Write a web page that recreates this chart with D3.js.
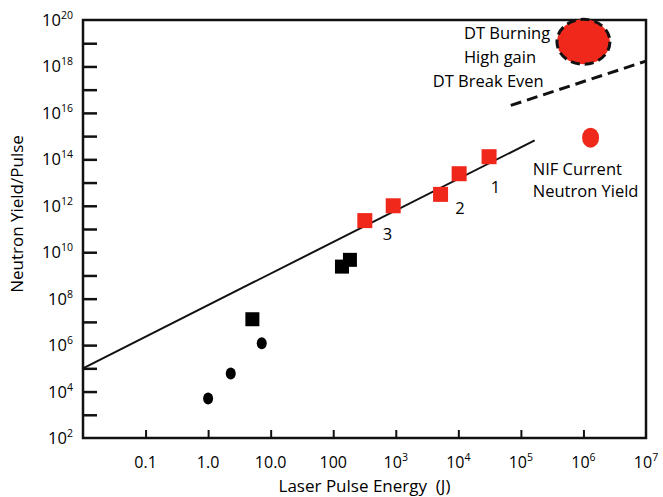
<!DOCTYPE html>
<html>
<head>
<meta charset="utf-8">
<script src="https://cdn.jsdelivr.net/npm/d3@7"></script>
<style>
  body { margin: 0; background: #fff; }
  svg text { font-family: "Open Sans", sans-serif; fill: #000; white-space: pre; }
</style>
</head>
<body>
<div id="chart"></div>
<script>

// Data (energy in J, yield in neutrons/pulse)

var circleEnergy = [1.0, 2.3, 7.2];
var circleYield  = [5e3, 6e4, 1.2e6];

var blackSqEnergy = [5.1, 138, 185];
var blackSqYield  = [1.3e7, 2.4e9, 4.7e9];

var redSqEnergy = [320, 910, 5200, 10300, 31000];
var redSqYield  = [2.3e11, 1e12, 3.1e12, 2.4e13, 1.3e14];

var fitEnergy = [0.01, 1.66e5];
var fitYield  = [1e5, 6.6e14];

var breakEvenEnergy = [6.9e4, 1e7];
var breakEvenYield  = [2.1e16, 1.7e18];

var highGainEnergy = [1e6];
var highGainYield  = [1.15e19];

var nifEnergy = [1.3e6];
var nifYield  = [8.6e14];

var xTickValues = [0.1, 1, 10, 100, 1e3, 1e4, 1e5, 1e6, 1e7];
var xTickLabels = ["0.1", "1.0", "10.0", "100", "10^3", "10^4", "10^5", "10^6", "10^7"];

var yTickValues = [1e3, 1e4, 1e5, 1e6, 1e7, 1e8, 1e9, 1e10, 1e11, 1e12, 1e13, 1e14, 1e15, 1e16, 1e17, 1e18, 1e19];
var yLabelValues = [1e2, 1e4, 1e6, 1e8, 1e10, 1e12, 1e14, 1e16, 1e18, 1e20];
var yLabelExps = ["2", "4", "6", "8", "10", "12", "14", "16", "18", "20"];

// annotation texts, anchored at (energy, yield) = left end of baseline
var noteText   = ["DT Burning", "High gain", "DT Break Even", "NIF Current", "Neutron Yield", "1", "2", "3"];
var noteEnergy = [1.23e4, 1.23e4, 3.9e3, 1.55e5, 1.55e5, 3.3e4, 8.9e3, 6.2e2];
var noteYield  = [1.5e19, 1.4e18, 1.3e17, 2.1e13, 2.4e12, 3.6e12, 4.5e11, 3.4e10];


// Chart

var w = 663, h = 497;
var margin = {top: 20, right: 17, bottom: 59, left: 83};
var width = w - margin.left - margin.right,
    height = h - margin.top - margin.bottom;

var svg = d3.select("#chart").append("svg")
    .attr("width", w)
    .attr("height", h);

var g = svg.append("g")
    .attr("transform", "translate(" + margin.left + "," + margin.top + ")");

var x = d3.scaleLog().domain([0.01, 1e7]).range([0, width]);
var y = d3.scaleLog().domain([1e2, 1e20]).range([height, 0]);

// axes (ticks pointing inwards, labels drawn separately)
var xAxis = d3.axisBottom(x)
    .tickValues(xTickValues.slice(0, -1))
    .tickSizeInner(-8).tickSizeOuter(0)
    .tickFormat("");
var yAxis = d3.axisLeft(y)
    .tickValues(yTickValues)
    .tickSizeInner(-14).tickSizeOuter(0)
    .tickFormat("");

g.append("g")
    .attr("transform", "translate(0," + height + ")")
    .call(xAxis)
    .call(function(s) { s.select(".domain").remove(); })
    .selectAll("line").attr("stroke", "#111").attr("stroke-width", 2);

g.append("g")
    .call(yAxis)
    .call(function(s) { s.select(".domain").remove(); })
    .selectAll("line").attr("stroke", "#111").attr("stroke-width", 2.5);

// frame
g.append("rect")
    .attr("x", 0).attr("y", 0)
    .attr("width", width).attr("height", height)
    .attr("fill", "none")
    .attr("stroke", "#111")
    .attr("stroke-width", 2.5);

// x tick labels
xTickLabels.forEach(function(lab, i) {
    var parts = lab.split("^");
    var t = g.append("text")
        .attr("x", x(xTickValues[i]))
        .attr("y", height + 30)
        .attr("text-anchor", "middle")
        .style("font-size", "16px")
        .text(parts[0]);
    if (parts.length > 1) {
        t.append("tspan")
            .attr("dy", -7)
            .style("font-size", "10.5px")
            .text(parts[1]);
    }
});

// y tick labels
yLabelValues.forEach(function(v, i) {
    var t = g.append("text")
        .attr("x", -10)
        .attr("y", y(v) + 6)
        .attr("text-anchor", "end")
        .style("font-size", "16.5px")
        .text("10");
    t.append("tspan")
        .attr("dy", -7)
        .style("font-size", "10.5px")
        .text(yLabelExps[i]);
});

// axis titles
g.append("text")
    .attr("x", width / 2)
    .attr("y", height + 54)
    .attr("text-anchor", "middle")
    .style("font-size", "17px")
    .text("Laser Pulse Energy  (J)");

g.append("text")
    .attr("transform", "translate(" + (-60) + "," + (height / 2 - 15) + ") rotate(-90)")
    .attr("text-anchor", "middle")
    .style("font-size", "17px")
    .text("Neutron Yield/Pulse");

var line = d3.line()
    .x(function(d) { return x(d[0]); })
    .y(function(d) { return y(d[1]); });

// fit line
g.append("path")
    .datum(d3.zip(fitEnergy, fitYield))
    .attr("d", line)
    .attr("fill", "none")
    .attr("stroke", "#111")
    .attr("stroke-width", 2);

// break even dashed line
g.append("path")
    .datum(d3.zip(breakEvenEnergy, breakEvenYield))
    .attr("d", line)
    .attr("fill", "none")
    .attr("stroke", "#111")
    .attr("stroke-width", 3)
    .attr("stroke-dasharray", "11,6");

// black circles
g.selectAll(".bcirc")
    .data(d3.zip(circleEnergy, circleYield))
    .enter().append("ellipse")
    .attr("class", "bcirc")
    .attr("cx", function(d) { return x(d[0]); })
    .attr("cy", function(d) { return y(d[1]); })
    .attr("rx", 5).attr("ry", 6)
    .attr("fill", "#000");

// black squares
var sq = 14;
g.selectAll(".bsq")
    .data(d3.zip(blackSqEnergy, blackSqYield))
    .enter().append("rect")
    .attr("class", "bsq")
    .attr("x", function(d) { return x(d[0]) - sq / 2; })
    .attr("y", function(d) { return y(d[1]) - sq / 2; })
    .attr("width", sq).attr("height", sq)
    .attr("fill", "#000");

// red squares
var rsq = 15;
g.selectAll(".rsq")
    .data(d3.zip(redSqEnergy, redSqYield))
    .enter().append("rect")
    .attr("class", "rsq")
    .attr("x", function(d) { return x(d[0]) - rsq / 2; })
    .attr("y", function(d) { return y(d[1]) - rsq / 2; })
    .attr("width", rsq).attr("height", rsq)
    .attr("fill", "#f0281c");

// NIF current yield
g.selectAll(".nif")
    .data(d3.zip(nifEnergy, nifYield))
    .enter().append("ellipse")
    .attr("class", "nif")
    .attr("cx", function(d) { return x(d[0]); })
    .attr("cy", function(d) { return y(d[1]); })
    .attr("rx", 8.5).attr("ry", 10)
    .attr("fill", "#f0281c");

// DT burning high gain
g.selectAll(".hg")
    .data(d3.zip(highGainEnergy, highGainYield))
    .enter().append("ellipse")
    .attr("class", "hg")
    .attr("cx", function(d) { return x(d[0]); })
    .attr("cy", function(d) { return y(d[1]); })
    .attr("rx", 26.5).attr("ry", 22.5)
    .attr("fill", "#f0281c")
    .attr("stroke", "#111")
    .attr("stroke-width", 3)
    .attr("stroke-dasharray", "9,5");

// annotations
noteText.forEach(function(txt, i) {
    g.append("text")
        .attr("x", x(noteEnergy[i]))
        .attr("y", y(noteYield[i]))
        .style("font-size", "16.5px")
        .text(txt);
});

</script>
</body>
</html>
